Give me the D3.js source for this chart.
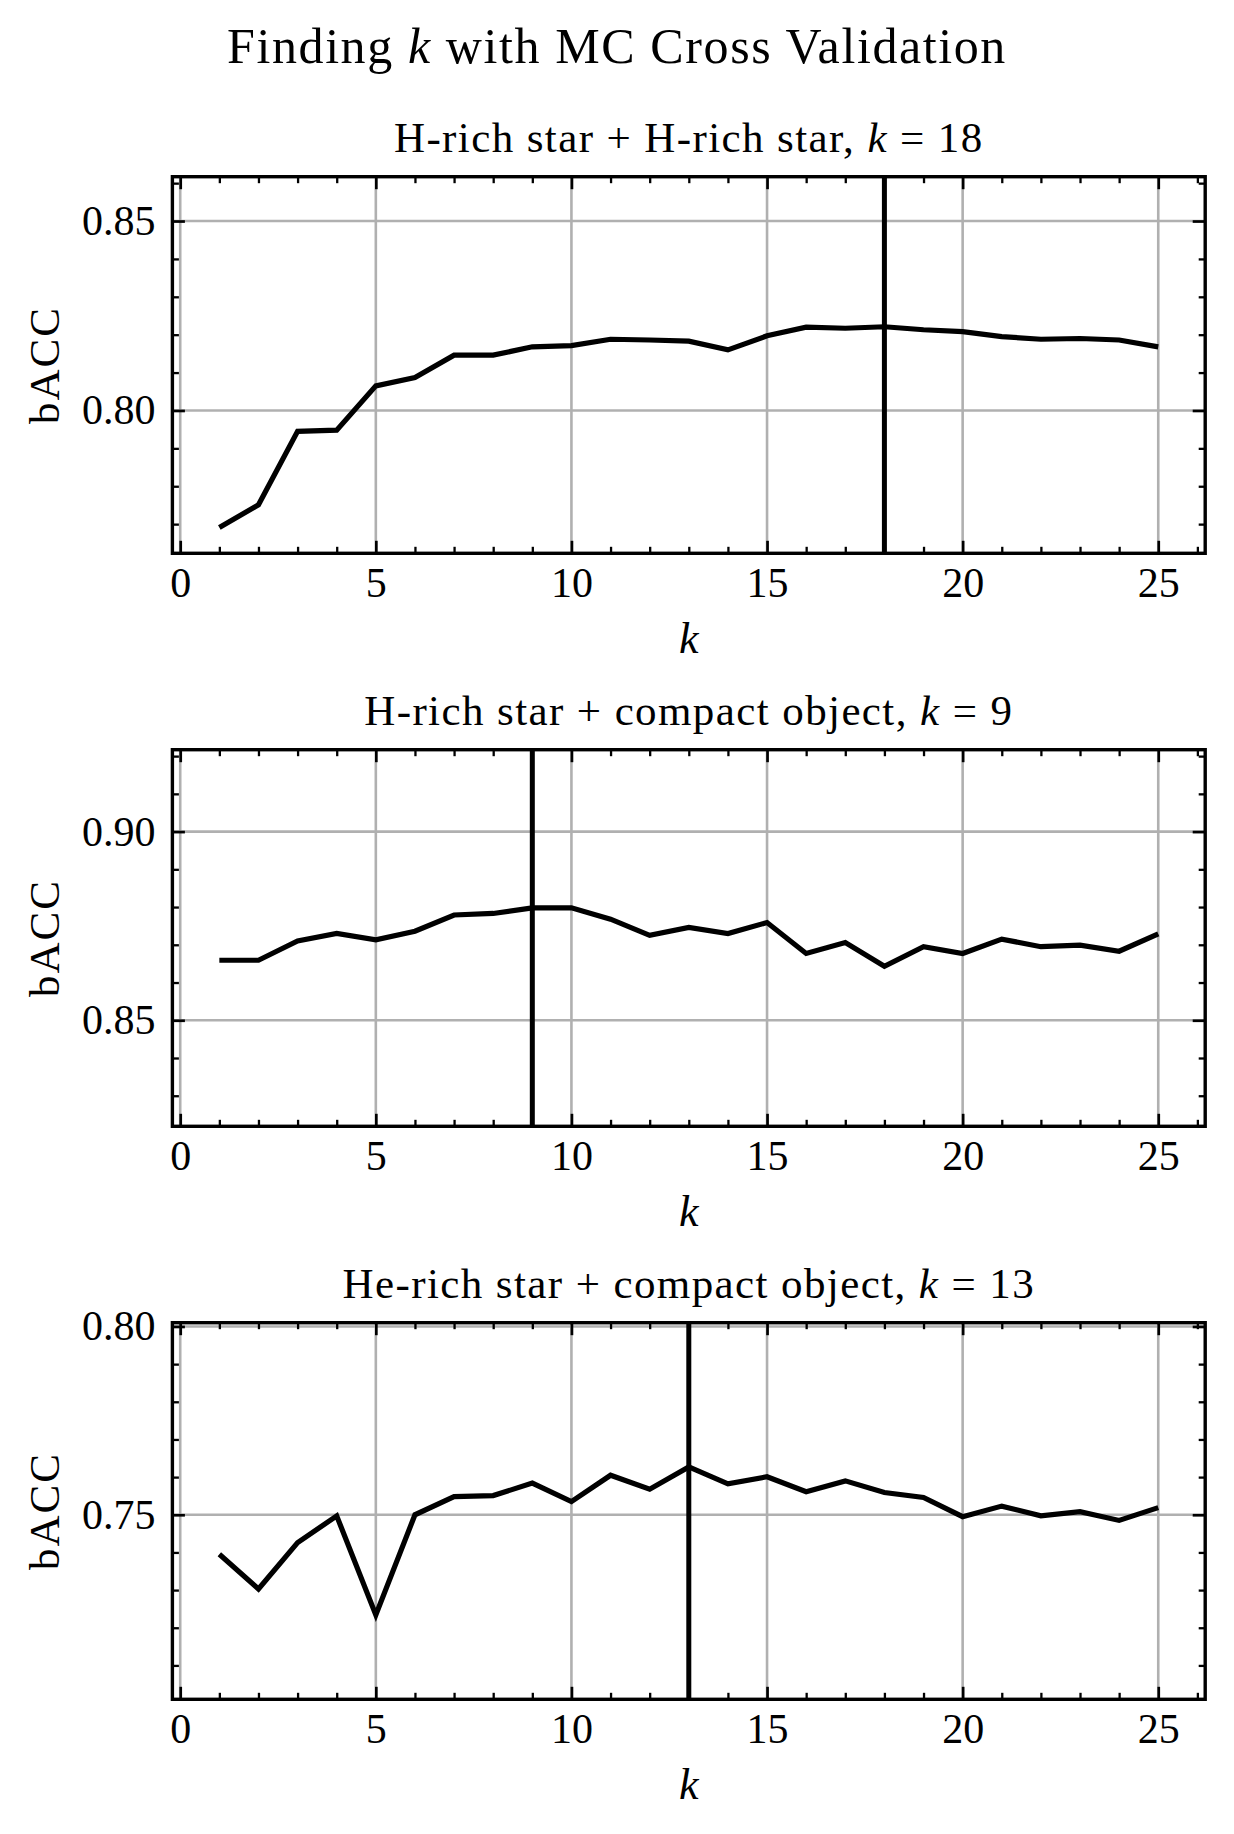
<!DOCTYPE html>
<html>
<head>
<meta charset="utf-8">
<script src="https://cdn.jsdelivr.net/npm/d3@7"></script>
<style>
  html, body { margin: 0; padding: 0; background: #fff; }
  svg { display: block; }
  text { font-family: "Liberation Serif", "DejaVu Serif", serif; fill: #000; }
</style>
</head>
<body>
<script>
// ---------------- data ----------------
const kValues = [1,2,3,4,5,6,7,8,9,10,11,12,13,14,15,16,17,18,19,20,21,22,23,24,25];

const baccHH = [0.7691,0.7751,0.7945,0.7948,0.8065,0.8087,0.8146,0.8146,0.8168,0.8171,
                0.8188,0.8186,0.8183,0.8160,0.8197,0.8220,0.8217,0.8221,0.8213,0.8208,
                0.8195,0.8188,0.8190,0.8186,0.8168];
const baccHCO = [0.8659,0.8659,0.8710,0.8730,0.8713,0.8736,0.8779,0.8783,0.8798,0.8798,
                 0.8768,0.8725,0.8746,0.8730,0.8759,0.8677,0.8706,0.8643,0.8695,0.8677,
                 0.8715,0.8695,0.8699,0.8683,0.8729];
const baccHeCO = [0.7395,0.7303,0.7426,0.7497,0.7234,0.7500,0.7548,0.7551,0.7584,0.7535,
                  0.7605,0.7568,0.7627,0.7582,0.7601,0.7561,0.7590,0.7559,0.7546,0.7495,
                  0.7523,0.7497,0.7508,0.7485,0.7519];

const bestK = [18, 9, 13];
const titleLabels = ["H-rich star + H-rich star, ", "H-rich star + compact object, ", "He-rich star + compact object, "];
const xTickValues = [0, 5, 10, 15, 20, 25];
const yTicksHH = [0.80, 0.85];
const yTicksHCO = [0.85, 0.90];
const yTicksHeCO = [0.75, 0.80];
const yLimsHH = [0.7623, 0.8617];
const yLimsHCO = [0.8219, 0.9217];
const yLimsHeCO = [0.7010, 0.8010];
const xLims = [-0.2, 26.2];
const suptitle = ["Finding ", "k", " with MC Cross Validation"];
const yLabel = "bACC";
const xLabel = "k";

// ---------------- layout ----------------
const W = 1234, H = 1834;
const left = 172.4, right = 1205.2;
const tops = [176.7, 749.7, 1322.7];
const plotH = 376.6;
const majorLen = 12.5, minorLen = 6.5;

const panels = [
  {values: baccHH, yTicks: yTicksHH, yLims: yLimsHH},
  {values: baccHCO, yTicks: yTicksHCO, yLims: yLimsHCO},
  {values: baccHeCO, yTicks: yTicksHeCO, yLims: yLimsHeCO}
];

const svg = d3.select("body").append("svg").attr("width", W).attr("height", H);
svg.append("rect").attr("width", W).attr("height", H).attr("fill", "#fff");

// suptitle
const st = svg.append("text").attr("x", 617).attr("y", 63).attr("text-anchor", "middle")
  .style("font-size", "50px").style("letter-spacing", "1.6px");
st.append("tspan").text(suptitle[0]);
st.append("tspan").style("font-style", "italic").text(suptitle[1]);
st.append("tspan").text(suptitle[2]);

const x = d3.scaleLinear().domain(xLims).range([left, right]);
const xMinor = d3.range(0, 27, 1).filter(v => v % 5 !== 0 && v >= xLims[0] && v <= xLims[1]);

panels.forEach((p, i) => {
  const top = tops[i], bottom = top + plotH;
  const y = d3.scaleLinear().domain(p.yLims).range([bottom, top]);
  const yMinor = d3.range(Math.ceil(p.yLims[0] * 100), Math.floor(p.yLims[1] * 100) + 1)
    .map(v => v / 100).filter(v => !p.yTicks.some(t => Math.abs(t - v) < 1e-9));
  const g = svg.append("g");

  // grid
  g.append("g").selectAll("line").data(xTickValues).join("line")
    .attr("x1", d => x(d)).attr("x2", d => x(d)).attr("y1", top).attr("y2", bottom)
    .attr("stroke", "#b0b0b0").attr("stroke-width", 2.6);
  g.append("g").selectAll("line").data(p.yTicks).join("line")
    .attr("x1", left).attr("x2", right).attr("y1", d => y(d)).attr("y2", d => y(d))
    .attr("stroke", "#b0b0b0").attr("stroke-width", 2.6);

  // data line
  const line = d3.line().x((d, j) => x(kValues[j])).y(d => y(d));
  g.append("path").datum(p.values).attr("d", line)
    .attr("fill", "none").attr("stroke", "#000").attr("stroke-width", 5.2)
    .attr("stroke-linejoin", "miter").attr("stroke-linecap", "butt");

  // best k vertical line
  g.append("line").attr("x1", x(bestK[i])).attr("x2", x(bestK[i]))
    .attr("y1", top).attr("y2", bottom).attr("stroke", "#000").attr("stroke-width", 5);

  // axes (inward ticks)
  const styleAxis = (sel, w) => {
    sel.select(".domain").remove();
    sel.selectAll(".tick line").attr("stroke", "#000").attr("stroke-width", w);
    sel.selectAll("text").style("font-size", "42px").attr("fill", "#000");
  };
  // bottom major with labels
  g.append("g").attr("transform", `translate(0,${bottom})`)
    .call(d3.axisBottom(x).tickValues(xTickValues).tickFormat(d3.format("d")).tickSize(-majorLen).tickPadding(14))
    .call(s => styleAxis(s, 2.7)).attr("font-family", null);
  g.append("g").attr("transform", `translate(0,${bottom})`)
    .call(d3.axisBottom(x).tickValues(xMinor).tickFormat("").tickSize(-minorLen))
    .call(s => styleAxis(s, 2.3));
  // top mirrored
  g.append("g").attr("transform", `translate(0,${top})`)
    .call(d3.axisTop(x).tickValues(xTickValues).tickFormat("").tickSize(-majorLen))
    .call(s => styleAxis(s, 2.7));
  g.append("g").attr("transform", `translate(0,${top})`)
    .call(d3.axisTop(x).tickValues(xMinor).tickFormat("").tickSize(-minorLen))
    .call(s => styleAxis(s, 2.3));
  // left major with labels
  g.append("g").attr("transform", `translate(${left},0)`)
    .call(d3.axisLeft(y).tickValues(p.yTicks).tickFormat(d3.format(".2f")).tickSize(-majorLen).tickPadding(17))
    .call(s => styleAxis(s, 2.7)).attr("font-family", null);
  g.append("g").attr("transform", `translate(${left},0)`)
    .call(d3.axisLeft(y).tickValues(yMinor).tickFormat("").tickSize(-minorLen))
    .call(s => styleAxis(s, 2.3));
  // right mirrored
  g.append("g").attr("transform", `translate(${right},0)`)
    .call(d3.axisRight(y).tickValues(p.yTicks).tickFormat("").tickSize(-majorLen))
    .call(s => styleAxis(s, 2.7));
  g.append("g").attr("transform", `translate(${right},0)`)
    .call(d3.axisRight(y).tickValues(yMinor).tickFormat("").tickSize(-minorLen))
    .call(s => styleAxis(s, 2.3));

  // spines
  g.append("rect").attr("x", left).attr("y", top).attr("width", right - left).attr("height", plotH)
    .attr("fill", "none").attr("stroke", "#000").attr("stroke-width", 3.4);

  // subplot title
  const cx = (left + right) / 2;
  const t = g.append("text").attr("x", cx).attr("y", top - 25).attr("text-anchor", "middle")
    .style("font-size", "43px").style("letter-spacing", "1.4px");
  t.append("tspan").text(titleLabels[i]);
  t.append("tspan").style("font-style", "italic").text("k");
  t.append("tspan").text(" = " + bestK[i]);

  // axis labels
  g.append("text").attr("x", cx).attr("y", bottom + 100).attr("text-anchor", "middle")
    .style("font-size", "44px").style("font-style", "italic").text(xLabel);
  g.append("text").attr("transform", `translate(59,${top + plotH / 2}) rotate(-90)`)
    .attr("text-anchor", "middle").style("font-size", "43px").style("letter-spacing", "2px").text(yLabel);
});
</script>
</body>
</html>
